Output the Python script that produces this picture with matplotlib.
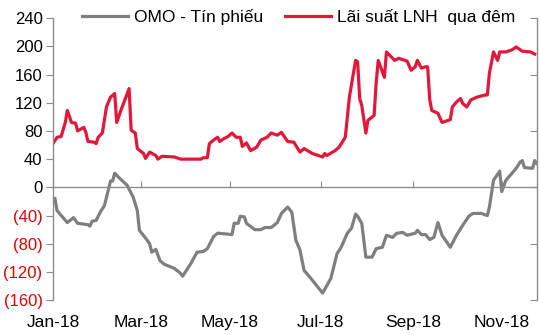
import numpy as np
import matplotlib
matplotlib.use("Agg")
import matplotlib.pyplot as plt

plt.rcParams['font.family'] = ['Liberation Sans', 'DejaVu Sans']

start_date = '2018-01-01'
# x = business-day offset from start_date
lnh_days = [0, 2, 4, 6, 7, 9, 11, 12, 15, 16, 17, 20, 21, 22, 24, 26, 28, 30, 31, 33, 37, 38, 40, 41,
            44, 45, 47, 50, 51, 53, 59, 62, 64, 72, 73, 75, 76, 78, 80, 81, 83, 85, 87, 89, 91, 92,
            94, 96, 99, 101, 104, 106, 109, 111, 114, 117, 120, 122, 126, 131, 132, 133, 137, 139,
            142, 144, 147, 148, 149, 150, 152, 153, 156, 157, 158, 161, 162, 166, 168, 172, 174,
            176, 177, 179, 181, 182, 183, 184, 187, 189, 193, 194, 196, 198, 199, 201, 203, 206,
            210, 211, 212, 214, 216, 217, 220, 223, 225, 228, 232, 234]
lnh_vals = [62, 71, 72, 92, 109, 92, 91, 80, 85, 78, 65, 64, 62, 71, 77, 114, 128, 133, 92, 109, 140,
            81, 77, 55, 48, 41, 50, 45, 40, 44, 43, 40, 40, 40, 42, 42, 62, 67, 71, 65, 69, 72, 77,
            71, 71, 58, 63, 52, 57, 67, 71, 77, 74, 78, 65, 64, 50, 55, 48, 43, 48, 45, 52, 57, 71,
            128, 180, 178, 126, 116, 77, 95, 102, 148, 180, 156, 192, 180, 183, 179, 166, 171, 180,
            169, 171, 171, 125, 109, 105, 92, 96, 114, 121, 126, 119, 114, 124, 128, 131, 131, 162,
            192, 180, 192, 192, 195, 199, 193, 192, 189]

omo_days = [1, 2, 7, 10, 12, 17, 18, 19, 21, 23, 25, 28, 29, 30, 32, 36, 39, 41, 42, 45, 47, 48, 50,
            52, 54, 59, 62, 63, 67, 70, 73, 75, 78, 80, 87, 88, 90, 91, 93, 94, 98, 101, 103, 106,
            109, 111, 114, 116, 118, 120, 122, 125, 131, 135, 138, 140, 143, 145, 147, 148, 150,
            152, 155, 157, 160, 162, 165, 167, 170, 172, 176, 177, 179, 181, 183, 185, 187, 189,
            193, 196, 199, 202, 204, 208, 211, 212, 214, 217, 218, 220, 223, 225, 227, 228, 229,
            233, 234, 235]
omo_vals = [-16, -33, -50, -43, -51, -53, -55, -48, -47, -35, -26, 9, 9, 20, 14, 3, -14, -33, -61,
            -72, -80, -92, -88, -104, -109, -115, -122, -126, -108, -92, -91, -87, -70, -65, -67,
            -51, -51, -41, -42, -51, -60, -60, -57, -57, -50, -37, -28, -35, -75, -89, -118, -128,
            -150, -129, -94, -85, -65, -58, -38, -41, -51, -99, -99, -87, -85, -68, -71, -65, -64,
            -68, -65, -61, -67, -67, -74, -71, -50, -68, -85, -68, -54, -41, -37, -37, -40, -28, 10,
            23, -6, 10, 20, 27, 36, 38, 28, 27, 38, 34]

month_starts = ['2018-01-01', '2018-03-01', '2018-05-01', '2018-07-02', '2018-09-03', '2018-11-01']
month_labels = ['Jan-18', 'Mar-18', 'May-18', 'Jul-18', 'Sep-18', 'Nov-18']

yticks = [-160, -120, -80, -40, 0, 40, 80, 120, 160, 200, 240]
right_ticks = [-160, -80, 0, 80, 160, 240]

RED = '#E3173A'
GRAY = '#7F7F7F'
AXC = '#8C8C8C'
FS = 12.5

fig = plt.figure(figsize=(5.4, 3.35), dpi=100)
ax = fig.add_axes([0.098, 0.104, 0.896, 0.842])

l1, = ax.plot(omo_days, omo_vals, color=GRAY, lw=2.3, label='OMO - Tín phiếu', solid_joinstyle='round')
l2, = ax.plot(lnh_days, lnh_vals, color=RED, lw=2.3, label='Lãi suất LNH  qua đêm', solid_joinstyle='round')

ax.set_xlim(0, 235)
ax.set_ylim(-160, 240)

ax.spines['top'].set_visible(False)
ax.spines['right'].set_color(AXC)
ax.spines['left'].set_color(AXC)
ax.spines['bottom'].set_position(('data', 0))
ax.spines['bottom'].set_color(AXC)
for s in ['left', 'right', 'bottom']:
    ax.spines[s].set_linewidth(1.0)

ylabels = [f'({abs(v)})' if v < 0 else str(v) for v in yticks]
ax.set_yticks(yticks, ylabels)
for v, lbl in zip(yticks, ax.get_yticklabels()):
    lbl.set_color('#E00000' if v < 0 else 'black')
ax.tick_params(axis='y', direction='out', length=5, color=AXC, labelsize=12, pad=2.5)

xt = [int(np.busday_count(start_date, d)) for d in month_starts]
ax.set_xticks(xt)
ax.set_xticklabels([])
ax.tick_params(axis='x', direction='in', length=4, color=AXC)
for x, lab in zip(xt, month_labels):
    ax.text(x, -0.078, lab, transform=ax.get_xaxis_transform(), ha='center', va='center',
            fontsize=FS, color='black')

ax2 = ax.twinx()
ax2.set_ylim(-160, 240)
ax2.set_yticks(right_ticks)
ax2.set_yticklabels([])
ax2.tick_params(axis='y', direction='in', length=5, color=AXC)
for s in ax2.spines.values():
    s.set_visible(False)

fig.legend(handles=[l1, l2], loc='center', bbox_to_anchor=(0.553, 0.948), ncol=2, frameon=False,
           fontsize=FS, handlelength=2.65, columnspacing=1.3, handletextpad=0.3)

fig.savefig('out.png', dpi=100)
